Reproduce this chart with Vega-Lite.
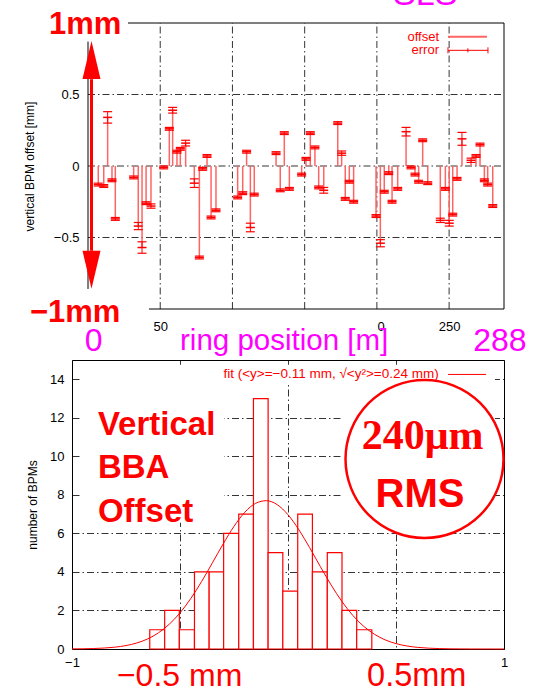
{
  "$schema": "https://vega.github.io/schema/vega-lite/v6.json",
  "background": "white",
  "padding": {"left": 23, "top": 0, "right": 0, "bottom": 0},
  "bounds": "flush",
  "spacing": 51,
  "config": {
    "font": "Liberation Sans",
    "view": {"stroke": null},
    "axis": {"labelFont": "Liberation Sans", "titleFont": "Liberation Sans", "labelFontSize": 13, "titleFontSize": 12, "titleFontWeight": "normal", "labelColor": "#000", "titleColor": "#000", "grid": true, "gridColor": "#000", "gridDash": [7, 3, 1.5, 3], "gridWidth": 0.8, "ticks": false, "tickSize": 0, "domain": false, "labelFlush": false, "labelOverlap": false}
  },
  "datasets": {
    "bpm": [
      {"pos": 7.1, "val": -0.13, "lo": -0.14, "hi": -0.12},
      {"pos": 10.9, "val": -0.14, "lo": -0.15, "hi": -0.13},
      {"pos": 13.6, "val": 0.34, "lo": 0.30, "hi": 0.38},
      {"pos": 16.6, "val": -0.10, "lo": -0.11, "hi": -0.09},
      {"pos": 18.9, "val": -0.37, "lo": -0.38, "hi": -0.36},
      {"pos": 31.6, "val": -0.08, "lo": -0.09, "hi": -0.07},
      {"pos": 34.8, "val": -0.42, "lo": -0.445, "hi": -0.395},
      {"pos": 37.4, "val": -0.57, "lo": -0.61, "hi": -0.53},
      {"pos": 40.2, "val": -0.26, "lo": -0.27, "hi": -0.25},
      {"pos": 43.6, "val": -0.28, "lo": -0.295, "hi": -0.265},
      {"pos": 52.4, "val": -0.01, "lo": -0.02, "hi": 0.0},
      {"pos": 56.3, "val": 0.26, "lo": 0.25, "hi": 0.27},
      {"pos": 58.6, "val": 0.39, "lo": 0.37, "hi": 0.41},
      {"pos": 61.6, "val": 0.10, "lo": 0.09, "hi": 0.11},
      {"pos": 63.9, "val": 0.12, "lo": 0.11, "hi": 0.13},
      {"pos": 67.6, "val": 0.16, "lo": 0.14, "hi": 0.18},
      {"pos": 73.6, "val": -0.12, "lo": -0.15, "hi": -0.09},
      {"pos": 77.1, "val": -0.64, "lo": -0.65, "hi": -0.63},
      {"pos": 79.4, "val": -0.02, "lo": -0.03, "hi": -0.01},
      {"pos": 82.4, "val": 0.07, "lo": 0.06, "hi": 0.08},
      {"pos": 85.2, "val": -0.36, "lo": -0.37, "hi": -0.35},
      {"pos": 88.6, "val": -0.31, "lo": -0.32, "hi": -0.30},
      {"pos": 103.6, "val": -0.22, "lo": -0.23, "hi": -0.21},
      {"pos": 107.1, "val": -0.19, "lo": -0.20, "hi": -0.18},
      {"pos": 109.8, "val": 0.10, "lo": 0.09, "hi": 0.11},
      {"pos": 112.4, "val": -0.43, "lo": -0.46, "hi": -0.40},
      {"pos": 115.1, "val": -0.20, "lo": -0.21, "hi": -0.19},
      {"pos": 130.2, "val": 0.09, "lo": 0.08, "hi": 0.10},
      {"pos": 133.1, "val": -0.17, "lo": -0.18, "hi": -0.16},
      {"pos": 135.9, "val": 0.23, "lo": 0.22, "hi": 0.24},
      {"pos": 139.4, "val": -0.16, "lo": -0.17, "hi": -0.15},
      {"pos": 147.9, "val": -0.06, "lo": -0.07, "hi": -0.05},
      {"pos": 150.9, "val": 0.05, "lo": 0.04, "hi": 0.06},
      {"pos": 153.9, "val": 0.23, "lo": 0.22, "hi": 0.24},
      {"pos": 157.1, "val": 0.13, "lo": 0.12, "hi": 0.14},
      {"pos": 159.7, "val": -0.15, "lo": -0.16, "hi": -0.14},
      {"pos": 163.2, "val": -0.17, "lo": -0.19, "hi": -0.15},
      {"pos": 172.9, "val": 0.30, "lo": 0.29, "hi": 0.31},
      {"pos": 175.6, "val": 0.09, "lo": 0.075, "hi": 0.105},
      {"pos": 178.1, "val": -0.23, "lo": -0.24, "hi": -0.22},
      {"pos": 180.9, "val": -0.11, "lo": -0.12, "hi": -0.10},
      {"pos": 183.9, "val": -0.25, "lo": -0.26, "hi": -0.24},
      {"pos": 199.4, "val": -0.35, "lo": -0.36, "hi": -0.34},
      {"pos": 202.4, "val": -0.54, "lo": -0.565, "hi": -0.515},
      {"pos": 205.1, "val": -0.18, "lo": -0.19, "hi": -0.17},
      {"pos": 208.2, "val": -0.05, "lo": -0.06, "hi": -0.04},
      {"pos": 210.5, "val": -0.25, "lo": -0.26, "hi": -0.24},
      {"pos": 214.4, "val": -0.16, "lo": -0.17, "hi": -0.15},
      {"pos": 220.2, "val": 0.24, "lo": 0.21, "hi": 0.27},
      {"pos": 223.6, "val": -0.01, "lo": -0.02, "hi": 0.0},
      {"pos": 226.4, "val": -0.06, "lo": -0.07, "hi": -0.05},
      {"pos": 228.9, "val": -0.11, "lo": -0.12, "hi": -0.10},
      {"pos": 231.7, "val": 0.18, "lo": 0.17, "hi": 0.19},
      {"pos": 235.2, "val": -0.12, "lo": -0.13, "hi": -0.11},
      {"pos": 243.9, "val": -0.38, "lo": -0.395, "hi": -0.365},
      {"pos": 247.4, "val": -0.16, "lo": -0.17, "hi": -0.15},
      {"pos": 250.1, "val": -0.40, "lo": -0.42, "hi": -0.38},
      {"pos": 252.5, "val": -0.34, "lo": -0.35, "hi": -0.33},
      {"pos": 255.5, "val": -0.09, "lo": -0.10, "hi": -0.08},
      {"pos": 258.9, "val": 0.19, "lo": 0.145, "hi": 0.235},
      {"pos": 265.2, "val": 0.04, "lo": 0.025, "hi": 0.055},
      {"pos": 268.6, "val": 0.07, "lo": 0.06, "hi": 0.08},
      {"pos": 271.4, "val": 0.15, "lo": 0.14, "hi": 0.16},
      {"pos": 274.4, "val": -0.10, "lo": -0.11, "hi": -0.09},
      {"pos": 276.7, "val": -0.13, "lo": -0.14, "hi": -0.12},
      {"pos": 280.2, "val": -0.28, "lo": -0.29, "hi": -0.27}
    ],
    "hist": [
      {"lo": -0.640, "hi": -0.571, "n": 1},
      {"lo": -0.571, "hi": -0.503, "n": 2},
      {"lo": -0.503, "hi": -0.433, "n": 1},
      {"lo": -0.433, "hi": -0.365, "n": 4},
      {"lo": -0.365, "hi": -0.298, "n": 4},
      {"lo": -0.298, "hi": -0.228, "n": 6},
      {"lo": -0.228, "hi": -0.160, "n": 7},
      {"lo": -0.160, "hi": -0.092, "n": 13},
      {"lo": -0.092, "hi": -0.024, "n": 5},
      {"lo": -0.024, "hi": 0.045, "n": 3},
      {"lo": 0.045, "hi": 0.113, "n": 7},
      {"lo": 0.113, "hi": 0.182, "n": 4},
      {"lo": 0.182, "hi": 0.250, "n": 5},
      {"lo": 0.250, "hi": 0.318, "n": 2},
      {"lo": 0.318, "hi": 0.388, "n": 1}
    ],
    "fit": [
      {"x": -1.00, "y": 0.005}, {"x": -0.95, "y": 0.012}, {"x": -0.90, "y": 0.025}, {"x": -0.85, "y": 0.051},
      {"x": -0.80, "y": 0.097}, {"x": -0.75, "y": 0.178}, {"x": -0.70, "y": 0.312}, {"x": -0.65, "y": 0.523},
      {"x": -0.60, "y": 0.838}, {"x": -0.55, "y": 1.282}, {"x": -0.50, "y": 1.875}, {"x": -0.45, "y": 2.620},
      {"x": -0.40, "y": 3.502}, {"x": -0.35, "y": 4.471}, {"x": -0.30, "y": 5.457}, {"x": -0.25, "y": 6.366},
      {"x": -0.20, "y": 7.096}, {"x": -0.15, "y": 7.560}, {"x": -0.10, "y": 7.698}, {"x": -0.05, "y": 7.492},
      {"x": 0.00, "y": 6.969}, {"x": 0.05, "y": 6.195}, {"x": 0.10, "y": 5.263}, {"x": 0.15, "y": 4.273},
      {"x": 0.20, "y": 3.317}, {"x": 0.25, "y": 2.460}, {"x": 0.30, "y": 1.744}, {"x": 0.35, "y": 1.182},
      {"x": 0.40, "y": 0.765}, {"x": 0.45, "y": 0.473}, {"x": 0.50, "y": 0.280}, {"x": 0.55, "y": 0.158},
      {"x": 0.60, "y": 0.085}, {"x": 0.65, "y": 0.044}, {"x": 0.70, "y": 0.022}, {"x": 0.75, "y": 0.010},
      {"x": 0.80, "y": 0.005}, {"x": 0.85, "y": 0.002}, {"x": 0.90, "y": 0.001}, {"x": 0.95, "y": 0.0004},
      {"x": 1.00, "y": 0.0002}
    ]
  },
  "vconcat": [
    {
      "width": 432,
      "height": 309,
      "layer": [
        {
          "data": {"values": [{"g": 50}, {"g": 100}, {"g": 150}, {"g": 200}, {"g": 250}]},
          "mark": {"type": "rule", "color": "#000", "strokeWidth": 0.8, "strokeDash": [7, 3, 1.5, 3]},
          "encoding": {
            "x": {"field": "g", "type": "quantitative",
              "scale": {"domain": [0, 288], "range": [16, 432], "nice": false, "zero": false},
              "axis": {"grid": false, "values": [50, 100, 150, 200, 250], "title": null, "labelPadding": 11,
                "labelExpr": "datum.value == 50 ? '50' : datum.value == 250 ? '250' : datum.value == 200 ? '\u00a0\u00a00' : ''",
                "labelAlign": {"condition": {"test": "datum.value == 200", "value": "left"}, "value": "center"}}},
            "y": {"datum": -1, "type": "quantitative",
              "scale": {"domain": [-1, 1], "range": [309, 23], "nice": false, "zero": false},
              "axis": {"grid": false, "values": [-0.5, 0, 0.5], "title": "vertical BPM offset [mm]", "offset": -16, "labelPadding": 9, "titlePadding": 17,
                "labelExpr": "datum.value == 0 ? '0' : datum.value > 0 ? '0.5' : '\u22120.5'"}},
            "y2": {"datum": 1}
          }
        },
        {
          "data": {"values": [{"g": -0.5}, {"g": 0}, {"g": 0.5}]},
          "mark": {"type": "rule", "color": "#000", "strokeWidth": 0.8, "strokeDash": [7, 3, 1.5, 3]},
          "encoding": {"x": {"datum": 0}, "x2": {"datum": 288}, "y": {"field": "g", "type": "quantitative"}}
        },
        {
          "data": {"name": "bpm"},
          "mark": {"type": "rule", "color": "#ff6464", "strokeWidth": 1.5},
          "encoding": {"x": {"field": "pos", "type": "quantitative"}, "y": {"field": "val", "type": "quantitative"}, "y2": {"datum": 0}}
        },
        {
          "data": {"name": "bpm"},
          "mark": {"type": "rule", "color": "#ff0000", "strokeWidth": 1},
          "encoding": {"x": {"field": "pos", "type": "quantitative"}, "y": {"field": "lo", "type": "quantitative"}, "y2": {"field": "hi"}}
        },
        {
          "data": {"name": "bpm"},
          "mark": {"type": "point", "shape": "M-1,0L1,0", "size": 81, "filled": false, "color": "#ff0000", "strokeWidth": 1.2, "opacity": 1},
          "encoding": {"x": {"field": "pos", "type": "quantitative"}, "y": {"field": "lo", "type": "quantitative"}}
        },
        {
          "data": {"name": "bpm"},
          "mark": {"type": "point", "shape": "M-1,0L1,0", "size": 81, "filled": false, "color": "#ff0000", "strokeWidth": 1.2, "opacity": 1},
          "encoding": {"x": {"field": "pos", "type": "quantitative"}, "y": {"field": "hi", "type": "quantitative"}}
        },
        {
          "data": {"name": "bpm"},
          "mark": {"type": "point", "shape": "M-1,0L1,0", "size": 81, "filled": false, "color": "#ff0000", "strokeWidth": 1.5, "opacity": 1},
          "encoding": {"x": {"field": "pos", "type": "quantitative"}, "y": {"field": "val", "type": "quantitative"}}
        },
        {
          "data": {"values": [{}]},
          "mark": {"type": "rule", "color": "#000", "strokeWidth": 1},
          "encoding": {"x": {"datum": 27.7}, "x2": {"datum": 288}, "y": {"datum": 1}}
        },
        {
          "data": {"values": [{}]},
          "mark": {"type": "rule", "color": "#000", "strokeWidth": 1},
          "encoding": {"x": {"datum": 42.2}, "x2": {"datum": 288}, "y": {"datum": -1}}
        },
        {
          "data": {"values": [{}]},
          "mark": {"type": "rule", "color": "#000", "strokeWidth": 1},
          "encoding": {"x": {"datum": 288}, "y": {"datum": -1}, "y2": {"datum": 1}}
        },
        {
          "data": {"values": [{}]},
          "mark": {"type": "rule", "color": "#000", "strokeWidth": 1},
          "encoding": {"x": {"datum": 0}, "y": {"datum": -0.86}, "y2": {"datum": 0.87}}
        },
        {
          "data": {"values": [{}]},
          "mark": {"type": "rule", "color": "#ff0000", "strokeWidth": 3},
          "encoding": {"x": {"datum": 2.42}, "y": {"datum": 0.607}, "y2": {"datum": -0.593}}
        },
        {
          "data": {"values": [{}]},
          "mark": {"type": "point", "shape": "M0,-1L0.4737,1L-0.4737,1Z", "size": 1444, "filled": true, "color": "#ff0000", "opacity": 1},
          "encoding": {"x": {"datum": 2.42}, "y": {"datum": 0.741}}
        },
        {
          "data": {"values": [{}]},
          "mark": {"type": "point", "shape": "M0,1L0.4737,-1L-0.4737,-1Z", "size": 1444, "filled": true, "color": "#ff0000", "opacity": 1},
          "encoding": {"x": {"datum": 2.42}, "y": {"datum": -0.726}}
        },
        {
          "data": {"values": [{}]},
          "mark": {"type": "text", "text": "1mm", "fontWeight": "bold", "fontSize": 31, "color": "#ff0000", "align": "left", "baseline": "alphabetic"},
          "encoding": {"x": {"datum": -27}, "y": {"datum": 0.923}}
        },
        {
          "data": {"values": [{}]},
          "mark": {"type": "text", "text": "\u22121mm", "fontWeight": "bold", "fontSize": 31, "color": "#ff0000", "align": "left", "baseline": "alphabetic"},
          "encoding": {"x": {"datum": -40.2}, "y": {"datum": -1.091}}
        },
        {
          "data": {"values": [{}]},
          "mark": {"type": "text", "text": "SLS", "fontSize": 34, "color": "#ff00ff", "align": "left", "baseline": "alphabetic", "clip": true},
          "encoding": {"x": {"datum": 211.2}, "y": {"datum": 1.126}}
        },
        {
          "data": {"values": [{}]},
          "mark": {"type": "text", "text": "offset", "fontSize": 13, "color": "#ff0000", "align": "right", "baseline": "middle"},
          "encoding": {"x": {"datum": 243}, "y": {"datum": 0.904}}
        },
        {
          "data": {"values": [{}]},
          "mark": {"type": "rule", "color": "#ff6464", "strokeWidth": 2},
          "encoding": {"x": {"datum": 249.2}, "x2": {"datum": 276.2}, "y": {"datum": 0.904}}
        },
        {
          "data": {"values": [{}]},
          "mark": {"type": "text", "text": "error", "fontSize": 13, "color": "#ff0000", "align": "right", "baseline": "middle"},
          "encoding": {"x": {"datum": 243}, "y": {"datum": 0.809}}
        },
        {
          "data": {"values": [{}]},
          "mark": {"type": "rule", "color": "#ff0000", "strokeWidth": 1},
          "encoding": {"x": {"datum": 249.2}, "x2": {"datum": 276.9}, "y": {"datum": 0.809}}
        },
        {
          "data": {"values": [{}]},
          "mark": {"type": "rule", "color": "#ff0000", "strokeWidth": 1},
          "encoding": {"x": {"datum": 249.2}, "y": {"datum": 0.788}, "y2": {"datum": 0.83}}
        },
        {
          "data": {"values": [{}]},
          "mark": {"type": "rule", "color": "#ff0000", "strokeWidth": 1},
          "encoding": {"x": {"datum": 276.9}, "y": {"datum": 0.788}, "y2": {"datum": 0.83}}
        },
        {
          "data": {"values": [{}]},
          "mark": {"type": "rule", "color": "#ff0000", "strokeWidth": 1},
          "encoding": {"x": {"datum": 263}, "y": {"datum": 0.795}, "y2": {"datum": 0.823}}
        },
        {
          "data": {"values": [{}]},
          "mark": {"type": "text", "text": "0", "fontSize": 32, "color": "#ff00ff", "align": "center", "baseline": "alphabetic"},
          "encoding": {"x": {"datum": 3.96}, "y": {"datum": -1.297}}
        },
        {
          "data": {"values": [{}]},
          "mark": {"type": "text", "text": "ring position [m]", "fontSize": 29.5, "color": "#ff00ff", "align": "left", "baseline": "alphabetic"},
          "encoding": {"x": {"datum": 63.7}, "y": {"datum": -1.285}}
        },
        {
          "data": {"values": [{}]},
          "mark": {"type": "text", "text": "288", "fontSize": 32, "color": "#ff00ff", "align": "center", "baseline": "alphabetic"},
          "encoding": {"x": {"datum": 285.2}, "y": {"datum": -1.297}}
        }
      ]
    },
    {
      "width": 432,
      "height": 289,
      "view": {"stroke": "#000", "strokeWidth": 1},
      "layer": [
        {
          "data": {"name": "hist"},
          "mark": {"type": "rect", "fill": "white", "stroke": "#ff0000", "strokeWidth": 1.2},
          "encoding": {
            "x": {"field": "lo", "type": "quantitative",
              "scale": {"domain": [-1, 1], "nice": false, "zero": false},
              "axis": {"values": [-1, -0.5, 0, 0.5, 1], "title": null, "labelPadding": 7,
                "labelExpr": "datum.value == -1 ? '\u22121' : datum.value == 1 ? '1' : ''"}},
            "x2": {"field": "hi"},
            "y": {"field": "n", "type": "quantitative",
              "scale": {"domain": [0, 15], "nice": false, "zero": false},
              "axis": {"values": [0, 2, 4, 6, 8, 10, 12, 14], "title": "number of BPMs", "labelPadding": 8, "titlePadding": 10}},
            "y2": {"datum": 0}
          }
        },
        {
          "data": {"values": [{}]},
          "mark": {"type": "rect", "fill": "white"},
          "encoding": {"x": {"datum": -0.958}, "x2": {"datum": -0.296}, "y": {"datum": 6.55}, "y2": {"datum": 14.75}}
        },
        {
          "data": {"values": [{}]},
          "mark": {"type": "rect", "fill": "white"},
          "encoding": {"x": {"datum": -0.296}, "x2": {"datum": 0.958}, "y": {"datum": 13.75}, "y2": {"datum": 14.75}}
        },
        {
          "data": {"values": [{}]},
          "mark": {"type": "rect", "fill": "white"},
          "encoding": {"x": {"datum": 0.245}, "x2": {"datum": 0.958}, "y": {"datum": 7.0}, "y2": {"datum": 13.75}}
        },
        {
          "data": {"name": "fit"},
          "mark": {"type": "line", "color": "#ff0000", "strokeWidth": 1, "interpolate": "monotone"},
          "encoding": {"x": {"field": "x", "type": "quantitative"}, "y": {"field": "y", "type": "quantitative"}}
        },
        {
          "data": {"values": [{}]},
          "mark": {"type": "point", "shape": "circle", "size": 24964, "filled": true, "fill": "white", "stroke": "#ff0000", "strokeWidth": 2.5, "opacity": 1},
          "encoding": {"x": {"datum": 0.632}, "y": {"datum": 9.86}}
        },
        {
          "data": {"values": [{}]},
          "mark": {"type": "text", "text": "Vertical", "fontWeight": "bold", "fontSize": 33, "color": "#ff0000", "align": "left", "baseline": "alphabetic"},
          "encoding": {"x": {"datum": -0.88}, "y": {"datum": 11.107}}
        },
        {
          "data": {"values": [{}]},
          "mark": {"type": "text", "text": "BBA", "fontWeight": "bold", "fontSize": 33, "color": "#ff0000", "align": "left", "baseline": "alphabetic"},
          "encoding": {"x": {"datum": -0.88}, "y": {"datum": 8.89}}
        },
        {
          "data": {"values": [{}]},
          "mark": {"type": "text", "text": "Offset", "fontWeight": "bold", "fontSize": 33, "color": "#ff0000", "align": "left", "baseline": "alphabetic"},
          "encoding": {"x": {"datum": -0.88}, "y": {"datum": 6.59}}
        },
        {
          "data": {"values": [{}]},
          "mark": {"type": "text", "text": "240\u03bcm", "font": "Liberation Serif", "fontWeight": "bold", "fontSize": 42, "color": "#ff0000", "align": "center", "baseline": "alphabetic"},
          "encoding": {"x": {"datum": 0.623}, "y": {"datum": 10.38}}
        },
        {
          "data": {"values": [{}]},
          "mark": {"type": "text", "text": "RMS", "fontWeight": "bold", "fontSize": 40, "color": "#ff0000", "align": "center", "baseline": "alphabetic"},
          "encoding": {"x": {"datum": 0.611}, "y": {"datum": 7.386}}
        },
        {
          "data": {"values": [{}]},
          "mark": {"type": "text", "text": "fit (<y>=\u22120.11 mm, \u221a<y\u00b2>=0.24 mm)", "fontSize": 13.5, "color": "#ff0000", "align": "right", "baseline": "middle"},
          "encoding": {"x": {"datum": 0.698}, "y": {"datum": 14.25}}
        },
        {
          "data": {"values": [{}]},
          "mark": {"type": "rule", "color": "#ff0000", "strokeWidth": 1},
          "encoding": {"x": {"datum": 0.741}, "x2": {"datum": 0.917}, "y": {"datum": 14.25}}
        },
        {
          "data": {"values": [{}]},
          "mark": {"type": "text", "text": "\u22120.5 mm", "fontSize": 32, "color": "#ff0000", "align": "left", "baseline": "alphabetic"},
          "encoding": {"x": {"datum": -0.792}, "y": {"datum": -1.9}}
        },
        {
          "data": {"values": [{}]},
          "mark": {"type": "text", "text": "0.5mm", "fontSize": 32.5, "color": "#ff0000", "align": "left", "baseline": "alphabetic"},
          "encoding": {"x": {"datum": 0.366}, "y": {"datum": -1.9}}
        }
      ]
    }
  ]
}
